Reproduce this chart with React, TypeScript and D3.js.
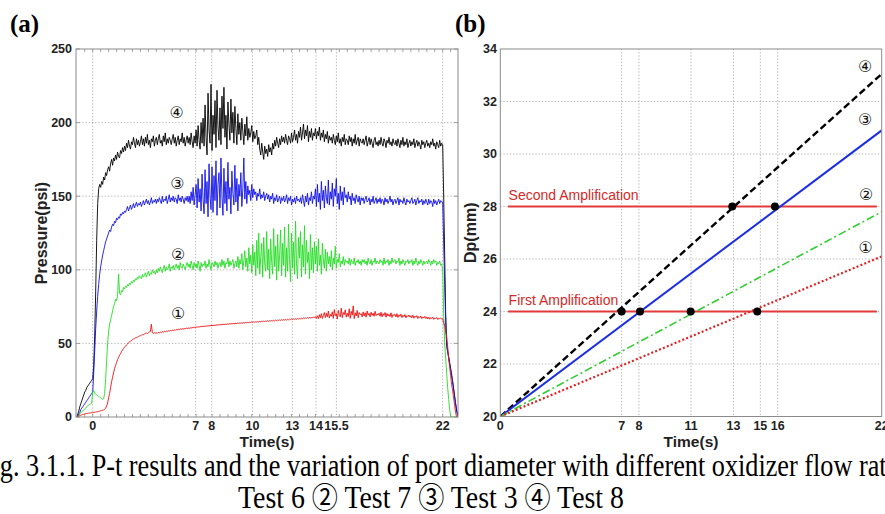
import React from 'react';
import * as d3 from 'd3';

const W = 885;
const H = 514;

// ---------- Panel (a): pressure traces, sampled from t = -1 s every 0.0625 s (16 per row = 1 s) ----------
const SAMPLE_T0 = -1;
const SAMPLE_DT = 0.0625;

// ④ Test 8 (black)
const test8 = [
  0, 2, 4, 7, 9, 11, 13, 15, 17, 18, 20, 21, 22, 23, 24, 25,
  26, 35, 55, 85, 120, 145, 155, 158, 156, 160, 158, 163, 161, 166, 164, 168,
  170, 167, 172, 175, 171, 176, 174, 178, 175, 180, 177, 176, 181, 179, 183, 180,
  184, 181, 186, 183, 188, 184, 182, 187, 185, 190, 186, 183, 189, 185, 188, 184,
  187, 191, 185, 189, 184, 190, 186, 192, 185, 188, 183, 189, 187, 191, 184, 188,
  190, 185, 189, 192, 186, 188, 184, 191, 187, 193, 185, 189, 186, 190, 188, 185,
  189, 192, 186, 190, 184, 188, 191, 185, 189, 187, 193, 186, 190, 184, 188, 191,
  186, 190, 185, 193, 187, 183, 191, 186, 195, 184, 198, 188, 182, 200, 186, 203,
  184, 212, 190, 178, 220, 195, 186, 226, 181, 205, 192, 215, 183, 222, 197, 188,
  210, 185, 218, 196, 224, 190, 205, 182, 214, 199, 188, 216, 193, 207, 186, 211,
  196, 185, 206, 192, 200, 188, 203, 194, 185, 199, 191, 204, 188, 196, 190, 193,
  198, 187, 194, 189, 191, 195, 185, 190, 182, 178, 186, 180, 175, 184, 179, 182,
  177, 185, 180, 183, 178, 186, 182, 188, 184, 190, 186, 183, 189, 185, 191, 187,
  190, 186, 192, 188, 185, 191, 189, 186, 193, 187, 190, 195, 188, 192, 186, 194,
  190, 197, 188, 193, 199, 189, 195, 191, 198, 187, 194, 190, 196, 188, 193, 191,
  196, 189, 194, 191, 197, 188, 193, 190, 195, 187, 192, 189, 194, 186, 191, 188,
  190, 186, 192, 188, 185, 191, 187, 193, 186, 189, 184, 190, 187, 192, 185, 189,
  188, 185, 191, 187, 190, 184, 189, 186, 192, 185, 188, 190, 184, 189, 187, 186,
  189, 185, 188, 191, 184, 187, 190, 185, 189, 186, 183, 188, 190, 185, 187, 184,
  188, 185, 190, 186, 184, 189, 187, 183, 188, 186, 190, 185, 187, 184, 189, 186,
  185, 188, 184, 189, 186, 183, 188, 185, 190, 184, 187, 185, 189, 183, 186, 188,
  184, 187, 185, 189, 183, 186, 188, 184, 187, 185, 182, 188, 185, 187, 183, 186,
  188, 184, 186, 183, 187, 185, 189, 184, 186, 182, 187, 185, 183, 188, 184, 186,
  185, 150, 110, 70, 50, 45, 41, 37, 33, 29, 24, 19, 14, 9, 4, 1,
  0,
];

// ③ Test 3 (blue)
const test3 = [
  0, 1, 2, 3, 5, 6, 7, 8, 9, 10, 11, 12, 13, 14, 15, 16,
  17, 30, 45, 60, 72, 82, 90, 97, 102, 106, 110, 113, 116, 119, 121, 123,
  125, 127, 126, 129, 131, 130, 133, 132, 135, 134, 136, 135, 138, 137, 139, 138,
  140, 139, 141, 143, 140, 142, 144, 141, 143, 145, 142, 144, 146, 143, 145, 144,
  146, 143, 145, 147, 144, 146, 148, 145, 147, 144, 146, 149, 145, 147, 146, 148,
  145, 148, 146, 149, 147, 145, 150, 146, 148, 147, 150, 145, 148, 151, 146, 149,
  147, 150, 146, 149, 148, 145, 151, 147, 149, 146, 150, 148, 145, 149, 147, 150,
  146, 150, 145, 153, 147, 156, 144, 151, 158, 142, 162, 146, 155, 140, 165, 148,
  138, 168, 145, 160, 136, 172, 150, 141, 170, 139, 164, 147, 174, 137, 158, 166,
  142, 176, 150, 137, 169, 145, 160, 140, 173, 148, 156, 138, 167, 152, 144, 171,
  146, 162, 140, 158, 150, 166, 143, 155, 176, 148, 160, 145, 157, 151, 154, 147,
  158, 149, 155, 151, 153, 147, 152, 150, 155, 148, 151, 149, 153, 147, 150, 152,
  148, 151, 146, 150, 148, 152, 145, 149, 147, 151, 146, 148, 150, 145, 149, 147,
  150, 146, 148, 151, 145, 149, 147, 150, 144, 148, 146, 149, 145, 150, 147, 148,
  146, 149, 145, 151, 147, 143, 150, 146, 152, 144, 149, 147, 153, 145, 150, 148,
  155, 143, 158, 146, 152, 141, 160, 147, 154, 142, 157, 149, 145, 161, 144, 153,
  148, 159, 143, 155, 150, 162, 145, 152, 141, 157, 147, 153, 144, 156, 149, 151,
  146, 153, 148, 150, 144, 152, 147, 149, 145, 151, 148, 146, 150, 144, 149, 147,
  149, 145, 148, 150, 146, 147, 149, 144, 148, 146, 150, 145, 147, 149, 145, 148,
  146, 149, 145, 148, 147, 144, 149, 146, 148, 145, 147, 150, 146, 148, 144, 147,
  148, 145, 147, 149, 144, 148, 146, 147, 145, 149, 146, 144, 148, 146, 147, 145,
  147, 149, 145, 146, 148, 144, 147, 149, 145, 147, 146, 148, 144, 147, 145, 148,
  146, 144, 148, 145, 147, 146, 143, 148, 145, 147, 144, 146, 148, 145, 147, 146,
  146, 118, 90, 65, 48, 44, 40, 36, 32, 28, 24, 19, 14, 9, 5, 2,
  0,
];

// ② Test 7 (green)
const test7 = [
  0, 0.5, 1, 2, 3, 3.5, 4, 5, 5.5, 6, 7, 7.5, 8, 8.5, 9, 9.5,
  17, 18, 16, 15.5, 15, 14.5, 14, 13.5, 13, 12.5, 12, 12.5, 16, 26, 38, 50,
  58, 63, 66, 69, 72, 75, 77, 80, 79, 82, 97, 84, 83, 86, 85, 88,
  87, 89, 88, 90, 89, 91, 90, 92, 91, 93, 92, 94, 93, 95, 94, 96,
  95, 94, 97, 95, 96, 98, 95, 97, 99, 96, 98, 97, 100, 98, 99, 97,
  100, 98, 101, 99, 102, 100, 98, 101, 103, 99, 102, 100, 101, 104, 99, 102,
  101, 103, 100, 102, 104, 101, 103, 100, 105, 102, 101, 104, 102, 100, 103, 105,
  102, 104, 101, 106, 103, 100, 105, 102, 104, 101, 106, 103, 99, 105, 102, 104,
  103, 106, 101, 104, 102, 107, 103, 100, 105, 104, 102, 106, 103, 105, 101, 104,
  105, 102, 107, 103, 106, 101, 105, 104, 108, 102, 106, 103, 105, 107, 101, 104,
  106, 102, 109, 101, 107, 104, 111, 100, 106, 113, 102, 108, 99, 115, 104, 110,
  98, 117, 103, 112, 96, 120, 101, 125, 97, 109, 118, 95, 122, 104, 99, 126,
  100, 114, 94, 121, 105, 97, 128, 102, 116, 93, 124, 99, 110, 127, 96, 118,
  103, 129, 95, 115, 99, 131, 106, 92, 125, 101, 119, 97, 133, 104, 94, 122,
  108, 126, 95, 117, 102, 130, 97, 120, 105, 112, 94, 124, 100, 115, 98, 119,
  104, 116, 99, 121, 103, 110, 97, 118, 106, 101, 114, 99, 112, 104, 109, 102,
  113, 100, 108, 104, 116, 101, 107, 105, 111, 102, 106, 104, 109, 103, 107, 105,
  106, 104, 108, 103, 107, 105, 104, 108, 103, 106, 105, 107, 104, 106, 103, 107,
  105, 107, 104, 106, 103, 108, 105, 104, 107, 103, 106, 105, 108, 104, 106, 105,
  104, 107, 105, 106, 103, 108, 104, 106, 105, 107, 103, 106, 104, 108, 105, 106,
  107, 104, 106, 105, 108, 103, 106, 104, 107, 105, 103, 106, 105, 107, 104, 106,
  105, 107, 103, 106, 104, 108, 105, 103, 106, 104, 107, 105, 103, 106, 104, 105,
  106, 104, 107, 105, 103, 106, 104, 107, 105, 106, 103, 105, 104, 106, 103, 104,
  100, 70, 50, 40, 30, 20, 12, 5, 1, 0, 0, 0, 0, 0, 0, 0,
  0,
];

// ① Test 6 (red)
const test6 = [
  0, 0.3, 0.6, 0.9, 1.2, 1.5, 1.7, 1.9, 2.1, 2.3, 2.4, 2.5, 2.6, 2.7, 2.8, 2.9,
  3, 3.1, 3.3, 3.4, 3.5, 3.7, 3.8, 4, 4.2, 4.4, 4.6, 4.8, 5.2, 6, 7.5, 9.5,
  13, 16, 20, 24, 27, 30, 33, 35, 37, 39, 40.5, 42, 43, 44.5, 45.5, 46.5,
  47.5, 48, 49, 49.5, 50.5, 51, 51.5, 52, 52.5, 53, 53.2, 53.8, 54, 54.3, 54.6, 55,
  55.2, 55.5, 56, 55.8, 56.5, 56.8, 57, 56.6, 57.3, 57.8, 58, 63, 57.2, 56.8, 57.3, 56.9,
  57.2, 56.8, 57.5, 57, 57.8, 57.3, 58, 57.6, 58.2, 57.8, 58.4, 58, 58.6, 58.2, 58.8, 58.5,
  59, 58.6, 59.2, 58.8, 59.5, 59.1, 59.7, 59.3, 59.9, 59.5, 60, 59.7, 60.2, 59.8, 60.4, 60.1,
  60.5, 60.1, 60.7, 60.3, 60.9, 60.5, 61.1, 60.7, 61.2, 60.9, 61.4, 61, 61.6, 61.2, 61.7, 61.4,
  61.8, 61.4, 62, 61.6, 62.1, 61.7, 62.3, 61.9, 62.4, 62, 62.5, 62.1, 62.6, 62.3, 62.8, 62.4,
  62.9, 62.5, 63, 62.6, 63.1, 62.7, 63.2, 62.9, 63.4, 63, 63.5, 63.1, 63.6, 63.2, 63.7, 63.3,
  63.8, 63.4, 63.9, 63.5, 64, 63.6, 64.1, 63.7, 64.2, 63.8, 64.3, 63.9, 64.4, 64, 64.5, 64.1,
  64.6, 64.2, 64.7, 64.3, 64.8, 64.4, 64.9, 64.5, 65, 64.6, 65.1, 64.7, 65.2, 64.8, 65.3, 64.9,
  65.4, 65, 65.5, 65.1, 65.6, 65.2, 65.7, 65.3, 65.8, 65.4, 65.9, 65.5, 66, 65.6, 66.1, 65.7,
  66.2, 65.8, 66.3, 65.9, 66.4, 66, 66.5, 66.1, 66.6, 66.2, 66.7, 66.3, 66.8, 66.4, 66.9, 66.5,
  67, 66.5, 67.2, 66.6, 67.4, 66.8, 67.5, 66.9, 67.6, 67, 67.8, 67.1, 67.9, 67.2, 68, 67.3,
  68.2, 67, 68.8, 66.8, 69.5, 67.4, 70.2, 66.9, 69, 71, 67.5, 70.5, 68, 72, 67.2, 69.8,
  68.4, 71.5, 67, 73, 68.8, 70.2, 66.5, 72.5, 69, 68, 74, 67.5, 71, 69.5, 72.8, 67.8,
  70.5, 68.2, 73.5, 67, 71.8, 69.2, 75.5, 66.8, 70.8, 68.6, 72.4, 67.4, 71, 69.6, 70.2, 68,
  71.4, 68.6, 70.8, 67.8, 72, 69.2, 70.4, 68, 71.2, 69, 70.6, 68.4, 71.8, 68.8, 70, 69.4,
  70.6, 68.4, 71.2, 68, 70.2, 69, 71, 67.8, 70.4, 68.6, 69.8, 68.2, 70.8, 67.6, 69.6, 68.8,
  69.8, 68, 70.2, 67.6, 69.4, 68.4, 69.9, 67.5, 69.2, 68.1, 69.6, 67.4, 68.9, 68.2, 69.3, 67.8,
  68.8, 67.4, 69.2, 67.1, 68.5, 67.8, 68.9, 66.9, 68.3, 67.5, 68.6, 66.8, 68, 67.3, 68.4, 66.9,
  68, 66.6, 67.8, 66.4, 67.5, 67, 67.9, 66.3, 67.2, 66.8, 67.6, 66.2, 67.1, 66.7, 67.4, 66.5,
  66.6, 64, 62, 58, 55, 48, 40, 34, 28, 22, 18, 13, 8, 3, 0, 0,
  0,
];

const aSeriesNames = ['④', '③', '②', '①'];
const aSeriesValues = [test8, test3, test7, test6];
const aSeriesColors = ['#000000', '#1010e8', '#22dd22', '#ee1111'];
const aLabelT = [5.28, 5.32, 5.38, 5.38];
const aLabelP = [207, 159, 110.7, 70.4];

const aXDomain = [-1.05, 23];
const aYTicks = [0, 50, 100, 150, 200, 250];
const aXTickT = [0, 6.47, 7.48, 10.04, 12.55, 14.04, 15.32, 22];
const aXTickLabels = ['0', '7', '8', '10', '13', '14', '15.5', '22'];

// ---------- Panel (b): port diameter growth ----------
const bTime = [0, 22];
const bNames = ['④', '③', '②', '①'];
const bEndDp = [33.05, 30.9, 27.8, 26.1];
const bStartDp = 20;
const bColors = ['#000000', '#1a2ee0', '#33cc33', '#dd2222'];
const bDash = ['7,3.5', null, '8,3,2,3', '2,2.2'];
const bWidths = [2.4, 2, 1.6, 2.2];
const bLabelT = [21.05, 21.05, 21.1, 21.08];
const bLabelDp = [33.32, 31.3, 28.45, 26.44];

const bYTicks = [20, 22, 24, 26, 28, 30, 32, 34];
const bXTickT = [0, 7, 8, 11, 13.45, 15, 16, 22];
const bXTickLabels = ['0', '7', '8', '11', '13', '15', '16', '22'];

const amplLevels = [24, 28];
const amplNames = ['First Amplification', 'Second Amplification'];
const amplStartT = 0.45;
const amplEndT = 21.72;

const dotT = [7, 8.06, 10.98, 14.82, 13.38, 15.84];
const dotDp = [24, 24, 24, 24, 28, 28];

const captionLine1 = 'Fig. 3.1.1. P-t results and the variation of port diameter with different oxidizer flow rates: ①';
const captionLine2 = [
  { t: 'Test 6 ', c: false },
  { t: '②', c: true },
  { t: ' Test 7 ', c: false },
  { t: '③', c: true },
  { t: ' Test 3 ', c: false },
  { t: '④', c: true },
  { t: ' Test 8', c: false },
];

const SANS = 'Liberation Sans, Arial, Helvetica, sans-serif';
const SERIF = 'Liberation Serif, Times New Roman, serif';
const CIRC = 'DejaVu Sans, Noto Sans CJK SC, sans-serif';
const CIRC_CAP = 'Noto Sans CJK JP, DejaVu Sans, sans-serif';

export default function App() {
  // panel a
  const ax = d3.scaleLinear().domain(aXDomain).range([76, 458.6]);
  const ay = d3.scaleLinear().domain([0, 250]).range([417, 49]);
  const aLeft = 76, aRight = 458, aTop = 49, aBottom = 417;
  const lineA = d3
    .line<number>()
    .x((_, i) => ax(SAMPLE_T0 + i * SAMPLE_DT))
    .y((d) => ay(d));
  const minorT = d3.range(-0.5, 23, 0.5);

  // panel b
  const bx = d3.scaleLinear().domain([0, 22]).range([500.3, 881.7]);
  const by = d3.scaleLinear().domain([20, 34]).range([416.5, 49]);
  const bLeft = 500.3, bRight = 881.7, bTop = 49, bBottom = 416.5;
  const lineB = d3
    .line<[number, number]>()
    .x((d) => bx(d[0]))
    .y((d) => by(d[1]));

  const gridColor = '#9a9a9a';
  const frameColor = '#8a8a8a';
  const tickColor = '#222';

  return (
    <svg
      width={W}
      height={H}
      viewBox={`0 0 ${W} ${H}`}
      style={{ position: 'absolute', left: 0, top: 0, background: '#fff' }}
    >
      <defs>
        <clipPath id="clipA">
          <rect x={aLeft} y={aTop - 5} width={aRight - aLeft} height={aBottom - aTop + 5} />
        </clipPath>
        <clipPath id="clipB">
          <rect x={bLeft} y={bTop} width={bRight - bLeft} height={bBottom - bTop} />
        </clipPath>
      </defs>
      <rect x={0} y={0} width={W} height={H} fill="#fff" />

      {/* ===== Panel (a) ===== */}
      <text x={10} y={32} fontFamily={SERIF} fontWeight="bold" fontSize={25}>(a)</text>
      <g>
        {aYTicks.slice(1, -1).map((v) => (
          <line key={'agy' + v} x1={aLeft} x2={aRight} y1={ay(v)} y2={ay(v)}
            stroke={gridColor} strokeWidth={0.8} strokeDasharray="1.2,2" />
        ))}
        {aXTickT.map((t) => (
          <line key={'agx' + t} x1={ax(t)} x2={ax(t)} y1={aTop} y2={aBottom}
            stroke={gridColor} strokeWidth={0.8} strokeDasharray="1.2,2" />
        ))}
        {minorT.map((t) => (
          <g key={'amt' + t}>
            <line x1={ax(t)} x2={ax(t)} y1={aTop} y2={aTop + 3} stroke={frameColor} strokeWidth={0.8} />
            <line x1={ax(t)} x2={ax(t)} y1={aBottom} y2={aBottom - 3} stroke={frameColor} strokeWidth={0.8} />
          </g>
        ))}
        {aYTicks.map((v) => (
          <g key={'ayt' + v}>
            <line x1={aLeft} x2={aLeft + 4} y1={ay(v)} y2={ay(v)} stroke={frameColor} strokeWidth={0.8} />
            <line x1={aRight} x2={aRight - 4} y1={ay(v)} y2={ay(v)} stroke={frameColor} strokeWidth={0.8} />
          </g>
        ))}
        <g clipPath="url(#clipA)">
          {aSeriesValues.map((vals, k) => (
            <path key={'as' + k} d={lineA(vals) || ''} fill="none"
              stroke={aSeriesColors[k]} strokeWidth={0.9} strokeLinejoin="round" />
          ))}
        </g>
        <rect x={aLeft} y={aTop} width={aRight - aLeft} height={aBottom - aTop}
          fill="none" stroke={frameColor} strokeWidth={1} />
        {aYTicks.map((v) => (
          <text key={'ayl' + v} x={72} y={ay(v)} dy="0.35em" textAnchor="end"
            fontFamily={SANS} fontSize={12.5} fontWeight="bold" fill={tickColor}>{v}</text>
        ))}
        {aXTickT.map((t, i) => (
          <text key={'axl' + i} x={ax(t)} y={430} textAnchor="middle"
            fontFamily={SANS} fontSize={12.5} fontWeight="bold" fill={tickColor}>{aXTickLabels[i]}</text>
        ))}
        <text x={(aLeft + aRight) / 2} y={447} textAnchor="middle" fontFamily={SANS}
          fontSize={15.5} fontWeight="bold" fill={tickColor}>Time(s)</text>
        <text transform={`translate(47,${(aTop + aBottom) / 2}) rotate(-90)`} textAnchor="middle"
          fontFamily={SANS} fontSize={16} fontWeight="bold" fill={tickColor}>Pressure(psi)</text>
        {aSeriesNames.map((n, k) => (
          <text key={'aln' + k} x={ax(aLabelT[k])} y={ay(aLabelP[k])} dy="0.35em" textAnchor="middle"
            fontFamily={CIRC} fontSize={16} fill="#111">{n}</text>
        ))}
      </g>

      {/* ===== Panel (b) ===== */}
      <text x={455} y={32} fontFamily={SERIF} fontWeight="bold" fontSize={25}>(b)</text>
      <g>
        {bYTicks.slice(1, -1).map((v) => (
          <line key={'bgy' + v} x1={bLeft} x2={bRight} y1={by(v)} y2={by(v)}
            stroke={gridColor} strokeWidth={0.8} strokeDasharray="1.2,2" />
        ))}
        {bXTickT.slice(1, -1).map((t) => (
          <line key={'bgx' + t} x1={bx(t)} x2={bx(t)} y1={bTop} y2={bBottom}
            stroke={gridColor} strokeWidth={0.8} strokeDasharray="1.2,2" />
        ))}
        <g clipPath="url(#clipB)">
          {amplLevels.map((lv) => (
            <line key={'amp' + lv} x1={bx(amplStartT)} x2={bx(amplEndT)} y1={by(lv)} y2={by(lv)}
              stroke="#e23a3a" strokeWidth={1.8} />
          ))}
          {bEndDp.map((e, k) => (
            <path key={'bl' + k}
              d={lineB([[bTime[0], bStartDp], [bTime[1], e]]) || ''}
              fill="none" stroke={bColors[k]} strokeWidth={bWidths[k]}
              strokeDasharray={bDash[k] || undefined} />
          ))}
          {dotT.map((t, i) => (
            <circle key={'dot' + i} cx={bx(t)} cy={by(dotDp[i])} r={4} fill="#000" />
          ))}
        </g>
        {amplLevels.map((lv, i) => (
          <text key={'ampl' + lv} x={bx(amplStartT) + 0.5} y={by(lv) - 7}
            fontFamily={SANS} fontSize={14} fill="#d42a2a">{amplNames[i]}</text>
        ))}
        <rect x={bLeft} y={bTop} width={bRight - bLeft} height={bBottom - bTop}
          fill="none" stroke={frameColor} strokeWidth={1} />
        {bYTicks.map((v) => (
          <text key={'byl' + v} x={497} y={by(v)} dy="0.35em" textAnchor="end"
            fontFamily={SANS} fontSize={12.5} fontWeight="bold" fill={tickColor}>{v}</text>
        ))}
        {bXTickT.map((t, i) => (
          <text key={'bxl' + i} x={bx(t)} y={430} textAnchor="middle"
            fontFamily={SANS} fontSize={12.5} fontWeight="bold" fill={tickColor}>{bXTickLabels[i]}</text>
        ))}
        <text x={(bLeft + bRight) / 2} y={447} textAnchor="middle" fontFamily={SANS}
          fontSize={15.5} fontWeight="bold" fill={tickColor}>Time(s)</text>
        <text transform={`translate(476,${(bTop + bBottom) / 2}) rotate(-90)`} textAnchor="middle"
          fontFamily={SANS} fontSize={16} fontWeight="bold" fill={tickColor}>Dp(mm)</text>
        {bNames.map((n, k) => (
          <text key={'bln' + k} x={bx(bLabelT[k])} y={by(bLabelDp[k])} dy="0.35em" textAnchor="middle"
            fontFamily={CIRC} fontSize={16} fill="#111">{n}</text>
        ))}
      </g>

      {/* ===== Caption ===== */}
      <text transform="translate(-22,476) scale(0.82,1)" fontFamily={SERIF} fontSize={32} fill="#000">
        {captionLine1}
      </text>
      <text transform="translate(431,508) scale(0.87,1)" textAnchor="middle" fontFamily={SERIF}
        fontSize={32} fill="#000">
        {captionLine2.map((p, i) =>
          p.c ? (
            <tspan key={i} fontFamily={CIRC_CAP} fontSize={30}>{p.t}</tspan>
          ) : (
            <tspan key={i}>{p.t}</tspan>
          )
        )}
      </text>
    </svg>
  );
}
